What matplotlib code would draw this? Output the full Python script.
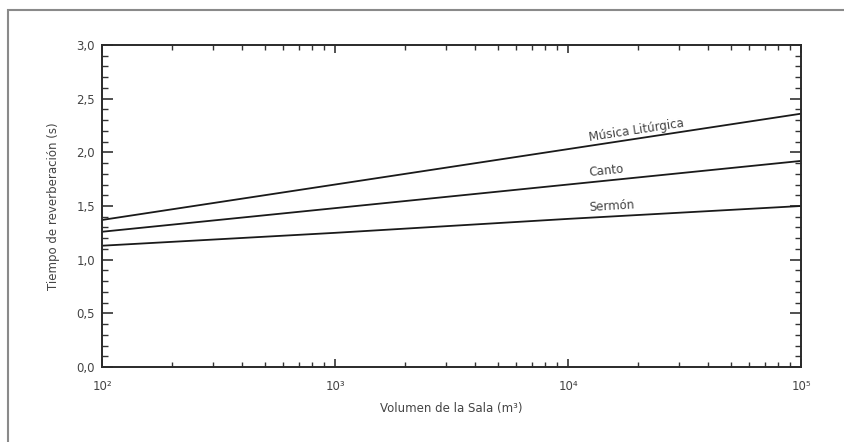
import numpy as np
import matplotlib.pyplot as plt
from matplotlib.patches import Rectangle
from matplotlib.ticker import FixedLocator, LogLocator, MultipleLocator, NullFormatter
from matplotlib import rcParams
rcParams['font.family'] = 'DejaVu Sans'
rcParams['font.size'] = 8

# data: reverberation time vs room volume (straight lines on log axis)
volumen = [1e2, 1e3, 1e4, 1e5]
musica = [1.37, 1.70, 2.03, 2.36]
canto = [1.26, 1.48, 1.70, 1.92]
sermon = [1.13, 1.25, 1.38, 1.50]
series = [("Música Litúrgica", musica), ("Canto", canto), ("Sermón", sermon)]
x_ticks = [1e2, 1e3, 1e4, 1e5]
x_ticklabels = ["10²", "10³", "10⁴", "10⁵"]

txt = '#444444'
fig = plt.figure(figsize=(8.45, 4.42), dpi=100)
ax = fig.add_axes([102/845, 1-367/442, 699/845, 322/442])

# outer grey frame
fig.patches.append(Rectangle((8/845, -0.05), 1.0, 1-10/442+0.05, transform=fig.transFigure,
                             fill=False, edgecolor='#8a8a8a', linewidth=1.5))

for name, vals in series:
    ax.plot(volumen, vals, color='#1a1a1a', linewidth=1.3)

ax.set_xscale('log')
ax.set_xlim(1e2, 1e5)
ax.set_ylim(0, 3.0)

ax.xaxis.set_major_locator(FixedLocator(x_ticks))
ax.set_xticklabels(x_ticklabels)
ax.xaxis.set_minor_locator(LogLocator(base=10, subs=np.arange(2, 10)))
ax.xaxis.set_minor_formatter(NullFormatter())
ax.yaxis.set_major_locator(MultipleLocator(0.5))
ax.yaxis.set_minor_locator(MultipleLocator(0.1))
ax.yaxis.set_major_formatter(plt.FuncFormatter(lambda v, p: f'{v:.1f}'.replace('.', ',')))

ax.tick_params(which='both', direction='in', top=True, right=True, colors='#333333',
               labelcolor=txt, labelsize=8.5)
ax.tick_params(axis='y', which='major', length=8, width=1.2, pad=5)
ax.tick_params(axis='y', which='minor', length=4, width=1)
ax.tick_params(axis='x', which='major', length=6, width=1.2, pad=9)
ax.tick_params(axis='x', which='minor', length=3.5, width=1)
for s in ax.spines.values():
    s.set_linewidth(1.4)
    s.set_color('#2a2a2a')

ax.set_xlabel("Volumen de la Sala (m³)", color=txt, fontsize=8.5, labelpad=7)
ax.set_ylabel("Tiempo de reverberación (s)", color=txt, fontsize=8.5, labelpad=12)

# labels on lines, rotated to follow the slope
fig.canvas.draw()
xl = 12400
for (name, vals), off in zip(series, [0.02, 0.03, 0.035]):
    p0 = ax.transData.transform((volumen[0], vals[0]))
    p1 = ax.transData.transform((volumen[-1], vals[-1]))
    ang = np.degrees(np.arctan2(p1[1]-p0[1], p1[0]-p0[0]))
    yl = np.interp(np.log10(xl), np.log10(volumen), vals)
    ax.text(xl, yl + off, name, rotation=ang, rotation_mode='anchor',
            ha='left', va='bottom', color=txt, fontsize=8.5)

fig.savefig('out.png', dpi=100)
